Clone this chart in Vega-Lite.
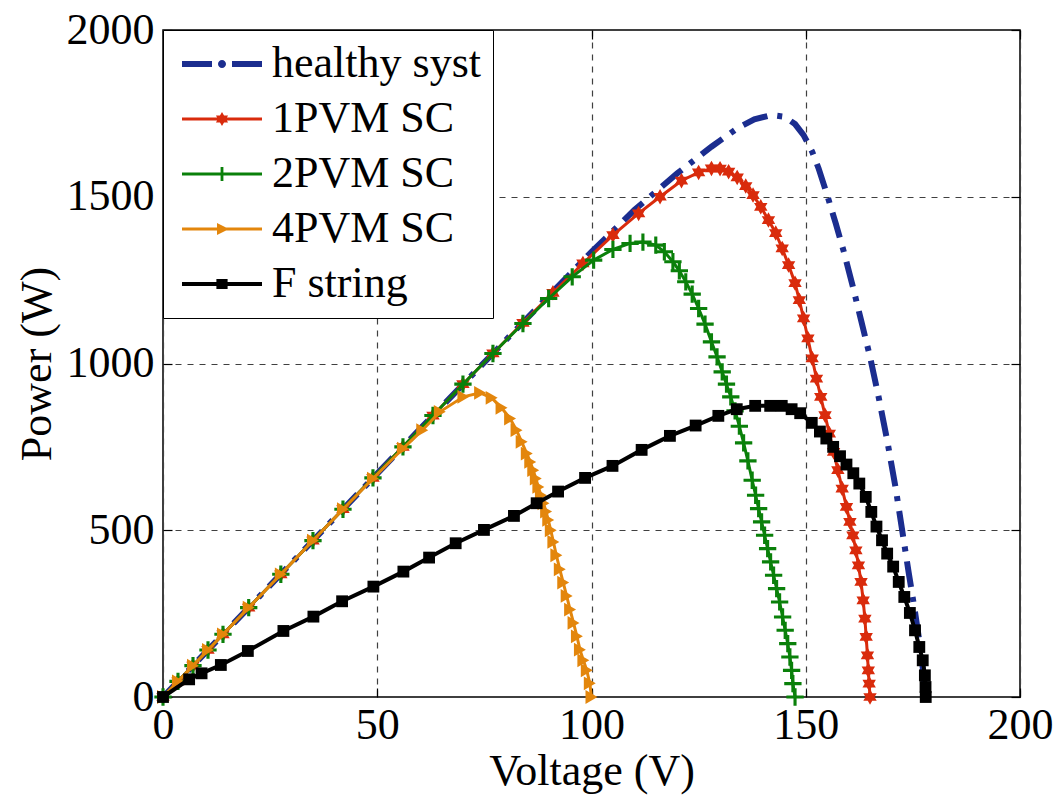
{
  "$schema": "https://vega.github.io/schema/vega-lite/v6.json",
  "width": 857,
  "height": 667,
  "autosize": "none",
  "padding": {"left": 163, "top": 30, "right": 37, "bottom": 102},
  "background": "white",
  "config": {"view": {"stroke": "black", "strokeWidth": 1.5}, "font": "Liberation Serif"},
  "datasets": {
    "d": [
      {"s": "healthy syst", "V": 0, "P": 0}, {"s": "healthy syst", "V": 20, "P": 268}, {"s": "healthy syst", "V": 40, "P": 536}, {"s": "healthy syst", "V": 60, "P": 804}, {"s": "healthy syst", "V": 80, "P": 1070}, {"s": "healthy syst", "V": 100, "P": 1335}, {"s": "healthy syst", "V": 110, "P": 1460}, {"s": "healthy syst", "V": 120, "P": 1570}, {"s": "healthy syst", "V": 128, "P": 1650}, {"s": "healthy syst", "V": 134, "P": 1705}, {"s": "healthy syst", "V": 138, "P": 1732}, {"s": "healthy syst", "V": 142, "P": 1745}, {"s": "healthy syst", "V": 145, "P": 1740}, {"s": "healthy syst", "V": 147.5, "P": 1718}, {"s": "healthy syst", "V": 149.5, "P": 1685}, {"s": "healthy syst", "V": 151.5, "P": 1635}, {"s": "healthy syst", "V": 153, "P": 1585}, {"s": "healthy syst", "V": 155, "P": 1505}, {"s": "healthy syst", "V": 157, "P": 1420}, {"s": "healthy syst", "V": 159, "P": 1330}, {"s": "healthy syst", "V": 161, "P": 1230}, {"s": "healthy syst", "V": 163, "P": 1125}, {"s": "healthy syst", "V": 165, "P": 1020}, {"s": "healthy syst", "V": 167, "P": 900}, {"s": "healthy syst", "V": 169, "P": 770}, {"s": "healthy syst", "V": 171, "P": 625}, {"s": "healthy syst", "V": 172.5, "P": 500}, {"s": "healthy syst", "V": 174, "P": 375}, {"s": "healthy syst", "V": 175.5, "P": 255}, {"s": "healthy syst", "V": 177, "P": 125}, {"s": "healthy syst", "V": 178, "P": 0},

      {"s": "1PVM SC", "V": 0, "P": 0}, {"s": "1PVM SC", "V": 3.5, "P": 47}, {"s": "1PVM SC", "V": 7, "P": 94}, {"s": "1PVM SC", "V": 10.5, "P": 141}, {"s": "1PVM SC", "V": 14, "P": 188}, {"s": "1PVM SC", "V": 20, "P": 268}, {"s": "1PVM SC", "V": 27.5, "P": 368}, {"s": "1PVM SC", "V": 35, "P": 469}, {"s": "1PVM SC", "V": 42, "P": 563}, {"s": "1PVM SC", "V": 49, "P": 657}, {"s": "1PVM SC", "V": 56, "P": 750}, {"s": "1PVM SC", "V": 63, "P": 844}, {"s": "1PVM SC", "V": 70, "P": 938}, {"s": "1PVM SC", "V": 77, "P": 1030}, {"s": "1PVM SC", "V": 84, "P": 1122}, {"s": "1PVM SC", "V": 91, "P": 1212}, {"s": "1PVM SC", "V": 98, "P": 1300}, {"s": "1PVM SC", "V": 105, "P": 1385}, {"s": "1PVM SC", "V": 111, "P": 1450}, {"s": "1PVM SC", "V": 116, "P": 1500}, {"s": "1PVM SC", "V": 121, "P": 1548}, {"s": "1PVM SC", "V": 125, "P": 1573}, {"s": "1PVM SC", "V": 128, "P": 1585}, {"s": "1PVM SC", "V": 130, "P": 1584}, {"s": "1PVM SC", "V": 132, "P": 1575}, {"s": "1PVM SC", "V": 134, "P": 1558}, {"s": "1PVM SC", "V": 136, "P": 1532}, {"s": "1PVM SC", "V": 137.7, "P": 1505}, {"s": "1PVM SC", "V": 139.5, "P": 1470}, {"s": "1PVM SC", "V": 141.3, "P": 1430}, {"s": "1PVM SC", "V": 143, "P": 1391}, {"s": "1PVM SC", "V": 144.5, "P": 1345}, {"s": "1PVM SC", "V": 146, "P": 1295}, {"s": "1PVM SC", "V": 147.5, "P": 1241}, {"s": "1PVM SC", "V": 148.5, "P": 1190}, {"s": "1PVM SC", "V": 149.5, "P": 1135}, {"s": "1PVM SC", "V": 150.5, "P": 1075}, {"s": "1PVM SC", "V": 151.5, "P": 1015}, {"s": "1PVM SC", "V": 152.5, "P": 955}, {"s": "1PVM SC", "V": 153.5, "P": 900}, {"s": "1PVM SC", "V": 154.5, "P": 845}, {"s": "1PVM SC", "V": 155.5, "P": 790}, {"s": "1PVM SC", "V": 156.5, "P": 735}, {"s": "1PVM SC", "V": 157.5, "P": 680}, {"s": "1PVM SC", "V": 158.5, "P": 625}, {"s": "1PVM SC", "V": 159.5, "P": 570}, {"s": "1PVM SC", "V": 160.3, "P": 525}, {"s": "1PVM SC", "V": 161, "P": 485}, {"s": "1PVM SC", "V": 161.7, "P": 440}, {"s": "1PVM SC", "V": 162.3, "P": 395}, {"s": "1PVM SC", "V": 162.9, "P": 345}, {"s": "1PVM SC", "V": 163.4, "P": 290}, {"s": "1PVM SC", "V": 163.8, "P": 235}, {"s": "1PVM SC", "V": 164.1, "P": 180}, {"s": "1PVM SC", "V": 164.4, "P": 125}, {"s": "1PVM SC", "V": 164.6, "P": 80}, {"s": "1PVM SC", "V": 164.8, "P": 40}, {"s": "1PVM SC", "V": 165, "P": 0},

      {"s": "2PVM SC", "V": 0, "P": 0}, {"s": "2PVM SC", "V": 3.5, "P": 47}, {"s": "2PVM SC", "V": 7, "P": 94}, {"s": "2PVM SC", "V": 10.5, "P": 141}, {"s": "2PVM SC", "V": 14, "P": 188}, {"s": "2PVM SC", "V": 20, "P": 268}, {"s": "2PVM SC", "V": 27.5, "P": 368}, {"s": "2PVM SC", "V": 35, "P": 469}, {"s": "2PVM SC", "V": 42, "P": 563}, {"s": "2PVM SC", "V": 49, "P": 657}, {"s": "2PVM SC", "V": 56, "P": 750}, {"s": "2PVM SC", "V": 63, "P": 844}, {"s": "2PVM SC", "V": 70, "P": 938}, {"s": "2PVM SC", "V": 77, "P": 1030}, {"s": "2PVM SC", "V": 84, "P": 1120}, {"s": "2PVM SC", "V": 90, "P": 1195}, {"s": "2PVM SC", "V": 95.5, "P": 1260}, {"s": "2PVM SC", "V": 100.5, "P": 1310}, {"s": "2PVM SC", "V": 105, "P": 1342}, {"s": "2PVM SC", "V": 109, "P": 1360}, {"s": "2PVM SC", "V": 112, "P": 1364}, {"s": "2PVM SC", "V": 115, "P": 1355}, {"s": "2PVM SC", "V": 117, "P": 1335}, {"s": "2PVM SC", "V": 119, "P": 1305}, {"s": "2PVM SC", "V": 120.5, "P": 1278}, {"s": "2PVM SC", "V": 122, "P": 1245}, {"s": "2PVM SC", "V": 123.5, "P": 1208}, {"s": "2PVM SC", "V": 125, "P": 1165}, {"s": "2PVM SC", "V": 126.5, "P": 1118}, {"s": "2PVM SC", "V": 128, "P": 1065}, {"s": "2PVM SC", "V": 129.3, "P": 1020}, {"s": "2PVM SC", "V": 130.5, "P": 975}, {"s": "2PVM SC", "V": 131.5, "P": 938}, {"s": "2PVM SC", "V": 132.5, "P": 900}, {"s": "2PVM SC", "V": 133.5, "P": 858}, {"s": "2PVM SC", "V": 134.5, "P": 812}, {"s": "2PVM SC", "V": 135.5, "P": 762}, {"s": "2PVM SC", "V": 136.5, "P": 708}, {"s": "2PVM SC", "V": 137.5, "P": 650}, {"s": "2PVM SC", "V": 138.3, "P": 605}, {"s": "2PVM SC", "V": 139, "P": 565}, {"s": "2PVM SC", "V": 139.7, "P": 525}, {"s": "2PVM SC", "V": 140.4, "P": 485}, {"s": "2PVM SC", "V": 141.1, "P": 445}, {"s": "2PVM SC", "V": 141.8, "P": 405}, {"s": "2PVM SC", "V": 142.5, "P": 365}, {"s": "2PVM SC", "V": 143.2, "P": 325}, {"s": "2PVM SC", "V": 143.9, "P": 285}, {"s": "2PVM SC", "V": 144.6, "P": 240}, {"s": "2PVM SC", "V": 145.2, "P": 200}, {"s": "2PVM SC", "V": 145.8, "P": 160}, {"s": "2PVM SC", "V": 146.3, "P": 120}, {"s": "2PVM SC", "V": 146.7, "P": 80}, {"s": "2PVM SC", "V": 147, "P": 40}, {"s": "2PVM SC", "V": 147.5, "P": 0},

      {"s": "4PVM SC", "V": 0, "P": 0}, {"s": "4PVM SC", "V": 3.5, "P": 47}, {"s": "4PVM SC", "V": 7, "P": 94}, {"s": "4PVM SC", "V": 10.5, "P": 141}, {"s": "4PVM SC", "V": 14, "P": 188}, {"s": "4PVM SC", "V": 20, "P": 268}, {"s": "4PVM SC", "V": 27.5, "P": 368}, {"s": "4PVM SC", "V": 35, "P": 469}, {"s": "4PVM SC", "V": 42, "P": 563}, {"s": "4PVM SC", "V": 49, "P": 655}, {"s": "4PVM SC", "V": 56, "P": 745}, {"s": "4PVM SC", "V": 60.5, "P": 800}, {"s": "4PVM SC", "V": 64.6, "P": 855}, {"s": "4PVM SC", "V": 70.1, "P": 900}, {"s": "4PVM SC", "V": 74, "P": 912}, {"s": "4PVM SC", "V": 76.7, "P": 897}, {"s": "4PVM SC", "V": 79, "P": 867}, {"s": "4PVM SC", "V": 81, "P": 835}, {"s": "4PVM SC", "V": 82.5, "P": 800}, {"s": "4PVM SC", "V": 83.7, "P": 765}, {"s": "4PVM SC", "V": 84.9, "P": 730}, {"s": "4PVM SC", "V": 85.7, "P": 705}, {"s": "4PVM SC", "V": 86.4, "P": 680}, {"s": "4PVM SC", "V": 87, "P": 655}, {"s": "4PVM SC", "V": 87.6, "P": 630}, {"s": "4PVM SC", "V": 88.2, "P": 605}, {"s": "4PVM SC", "V": 88.8, "P": 581}, {"s": "4PVM SC", "V": 89.4, "P": 556}, {"s": "4PVM SC", "V": 89.9, "P": 531}, {"s": "4PVM SC", "V": 90.5, "P": 500}, {"s": "4PVM SC", "V": 91.1, "P": 465}, {"s": "4PVM SC", "V": 91.8, "P": 425}, {"s": "4PVM SC", "V": 92.6, "P": 383}, {"s": "4PVM SC", "V": 93.4, "P": 343}, {"s": "4PVM SC", "V": 94.2, "P": 303}, {"s": "4PVM SC", "V": 95, "P": 262}, {"s": "4PVM SC", "V": 95.8, "P": 222}, {"s": "4PVM SC", "V": 96.6, "P": 182}, {"s": "4PVM SC", "V": 97.3, "P": 142}, {"s": "4PVM SC", "V": 98.1, "P": 110}, {"s": "4PVM SC", "V": 98.9, "P": 80}, {"s": "4PVM SC", "V": 99.6, "P": 41}, {"s": "4PVM SC", "V": 100, "P": 0},

      {"s": "F string", "V": 0, "P": 0}, {"s": "F string", "V": 6.1, "P": 53}, {"s": "F string", "V": 9, "P": 71}, {"s": "F string", "V": 13.5, "P": 96}, {"s": "F string", "V": 19.8, "P": 138}, {"s": "F string", "V": 28.1, "P": 198}, {"s": "F string", "V": 35.1, "P": 241}, {"s": "F string", "V": 41.8, "P": 287}, {"s": "F string", "V": 49.1, "P": 331}, {"s": "F string", "V": 56.1, "P": 376}, {"s": "F string", "V": 62.1, "P": 418}, {"s": "F string", "V": 68.3, "P": 461}, {"s": "F string", "V": 74.9, "P": 501}, {"s": "F string", "V": 81.9, "P": 543}, {"s": "F string", "V": 87.2, "P": 581}, {"s": "F string", "V": 92.2, "P": 616}, {"s": "F string", "V": 98.5, "P": 657}, {"s": "F string", "V": 104.9, "P": 693}, {"s": "F string", "V": 111.7, "P": 741}, {"s": "F string", "V": 118.3, "P": 783}, {"s": "F string", "V": 124.3, "P": 814}, {"s": "F string", "V": 129.6, "P": 843}, {"s": "F string", "V": 133.9, "P": 863}, {"s": "F string", "V": 138.2, "P": 873}, {"s": "F string", "V": 141.7, "P": 873}, {"s": "F string", "V": 144.4, "P": 873}, {"s": "F string", "V": 146.7, "P": 863}, {"s": "F string", "V": 148.7, "P": 851}, {"s": "F string", "V": 151.4, "P": 822}, {"s": "F string", "V": 153.3, "P": 796}, {"s": "F string", "V": 154.8, "P": 775}, {"s": "F string", "V": 156.4, "P": 750}, {"s": "F string", "V": 158, "P": 722}, {"s": "F string", "V": 159.5, "P": 697}, {"s": "F string", "V": 161.1, "P": 671}, {"s": "F string", "V": 162.5, "P": 640}, {"s": "F string", "V": 164, "P": 600}, {"s": "F string", "V": 165.3, "P": 555}, {"s": "F string", "V": 166.5, "P": 511}, {"s": "F string", "V": 167.8, "P": 470}, {"s": "F string", "V": 169, "P": 430}, {"s": "F string", "V": 170.4, "P": 391}, {"s": "F string", "V": 171.7, "P": 345}, {"s": "F string", "V": 173, "P": 300}, {"s": "F string", "V": 174.3, "P": 252}, {"s": "F string", "V": 175.5, "P": 200}, {"s": "F string", "V": 176.5, "P": 150}, {"s": "F string", "V": 177.3, "P": 110}, {"s": "F string", "V": 177.8, "P": 65}, {"s": "F string", "V": 177.95, "P": 30}, {"s": "F string", "V": 178, "P": 0}
    ]
  },
  "data": {"name": "d"},
  "encoding": {
    "x": {
      "field": "V", "type": "quantitative",
      "scale": {"domain": [0, 200], "nice": false, "zero": false},
      "axis": {
        "values": [0, 50, 100, 150, 200], "title": "Voltage (V)", "format": "d",
        "grid": true, "gridDash": [6, 6], "gridColor": "#404040", "gridWidth": 1.2,
        "domain": false, "tickSize": -9, "tickColor": "black", "tickWidth": 1.2,
        "labelFont": "Liberation Serif", "labelFontSize": 44, "labelColor": "black", "labelPadding": 15,
        "labelFlush": false, "labelOverlap": false,
        "titleFont": "Liberation Serif", "titleFontSize": 44, "titleFontWeight": "normal", "titleColor": "black",
        "titleBaseline": "alphabetic", "titleY": 87
      }
    },
    "y": {
      "field": "P", "type": "quantitative",
      "scale": {"domain": [0, 2000], "nice": false, "zero": false},
      "axis": {
        "values": [0, 500, 1000, 1500, 2000], "title": "Power (W)", "format": "d",
        "grid": true, "gridDash": [6, 6], "gridColor": "#404040", "gridWidth": 1.2,
        "domain": false, "tickSize": -9, "tickColor": "black", "tickWidth": 1.2,
        "labelFont": "Liberation Serif", "labelFontSize": 44, "labelColor": "black", "labelPadding": 18,
        "labelFlush": false, "labelOverlap": false,
        "titleFont": "Liberation Serif", "titleFontSize": 44, "titleFontWeight": "normal", "titleColor": "black",
        "titleBaseline": "alphabetic", "titleX": -113
      }
    },
    "color": {
      "field": "s", "type": "nominal",
      "scale": {"domain": ["healthy syst", "1PVM SC", "2PVM SC", "4PVM SC", "F string"], "range": ["#1b2d8f", "#d92b0c", "#0a800a", "#e3860c", "#000000"]},
      "legend": {
        "title": null, "orient": "top-left", "offset": 0, "padding": 12,
        "strokeColor": "black", "fillColor": "white",
        "labelFont": "Liberation Serif", "labelFontSize": 44, "labelColor": "black", "labelOffset": 53, "labelLimit": 500,
        "symbolSize": 1600, "symbolStrokeWidth": 0, "rowPadding": 11
      }
    }
  },
  "resolve": {"axis": {"x": "independent", "y": "independent"}},
  "layer": [
    {
      "layer": [
        {
          "transform": [{"filter": "datum.s === 'healthy syst'"}],
          "mark": {"type": "line", "strokeWidth": 6, "strokeDash": [26, 10, 5, 10]},
          "encoding": {}
        },
        {
          "transform": [{"filter": "datum.s === '1PVM SC'"}],
          "layer": [
            {"mark": {"type": "line", "strokeWidth": 3}, "encoding": {}},
            {"mark": {"type": "point", "filled": true, "opacity": 1, "size": 240, "shape": "M0,-1L0.289,-0.5L0.866,-0.5L0.577,0L0.866,0.5L0.289,0.5L0,1L-0.289,0.5L-0.866,0.5L-0.577,0L-0.866,-0.5L-0.289,-0.5Z"}}
          ]
        },
        {
          "transform": [{"filter": "datum.s === '2PVM SC'"}],
          "layer": [
            {"mark": {"type": "line", "strokeWidth": 3}, "encoding": {}},
            {"mark": {"type": "point", "filled": true, "opacity": 1, "size": 300, "shape": "M-1,-0.18H1V0.18H-1Z M-0.18,-1H0.18V1H-0.18Z"}}
          ]
        },
        {
          "transform": [{"filter": "datum.s === '4PVM SC'"}],
          "layer": [
            {"mark": {"type": "line", "strokeWidth": 3}, "encoding": {}},
            {"mark": {"type": "point", "filled": true, "opacity": 1, "size": 190, "shape": "triangle-right"}}
          ]
        },
        {
          "transform": [{"filter": "datum.s === 'F string'"}],
          "layer": [
            {"mark": {"type": "line", "strokeWidth": 4}, "encoding": {}},
            {"mark": {"type": "point", "filled": true, "opacity": 1, "size": 140, "shape": "square"}}
          ]
        }
      ]
    },
    {
      "transform": [{"filter": "datum.V < 0"}],
      "mark": {"type": "point", "filled": true, "opacity": 1},
      "encoding": {
        "x": {
          "field": "V", "type": "quantitative",
          "axis": {"orient": "top", "values": [0, 50, 100, 150, 200], "labels": false, "title": null, "grid": false, "domain": false, "tickSize": -9, "tickColor": "black", "tickWidth": 1.2}
        },
        "y": {
          "field": "P", "type": "quantitative",
          "axis": {"orient": "right", "values": [0, 500, 1000, 1500, 2000], "labels": false, "title": null, "grid": false, "domain": false, "tickSize": -9, "tickColor": "black", "tickWidth": 1.2}
        },
        "shape": {
          "field": "s", "type": "nominal",
          "scale": {
            "domain": ["healthy syst", "1PVM SC", "2PVM SC", "4PVM SC", "F string"],
            "range": [
              "M-0.75,-0.15H0.75V0.15H-0.75Z M1.75,-0.15H3.25V0.15H1.75Z M1.05,0A0.2,0.2 0 1,1 1.45,0A0.2,0.2 0 1,1 1.05,0Z",
              "M-0.75,-0.08H3.25V0.08H-0.75Z M1.25,-0.35L1.351,-0.175L1.553,-0.175L1.452,0L1.553,0.175L1.351,0.175L1.25,0.35L1.149,0.175L0.947,0.175L1.048,0L0.947,-0.175L1.149,-0.175Z",
              "M-0.75,-0.08H3.25V0.08H-0.75Z M1.18,-0.35H1.32V0.35H1.18Z",
              "M-0.75,-0.08H3.25V0.08H-0.75Z M1,-0.3L1.6,0L1,0.3Z",
              "M-0.75,-0.1H3.25V0.1H-0.75Z M0.97,-0.25H1.53V0.25H0.97Z"
            ]
          },
          "legend": {
            "title": null, "orient": "top-left", "offset": 0, "padding": 12,
            "strokeColor": "black", "fillColor": "white",
            "labelFont": "Liberation Serif", "labelFontSize": 44, "labelColor": "black", "labelOffset": 53, "labelLimit": 500,
            "symbolSize": 1600, "symbolStrokeWidth": 0, "rowPadding": 11
          }
        }
      }
    }
  ]
}
